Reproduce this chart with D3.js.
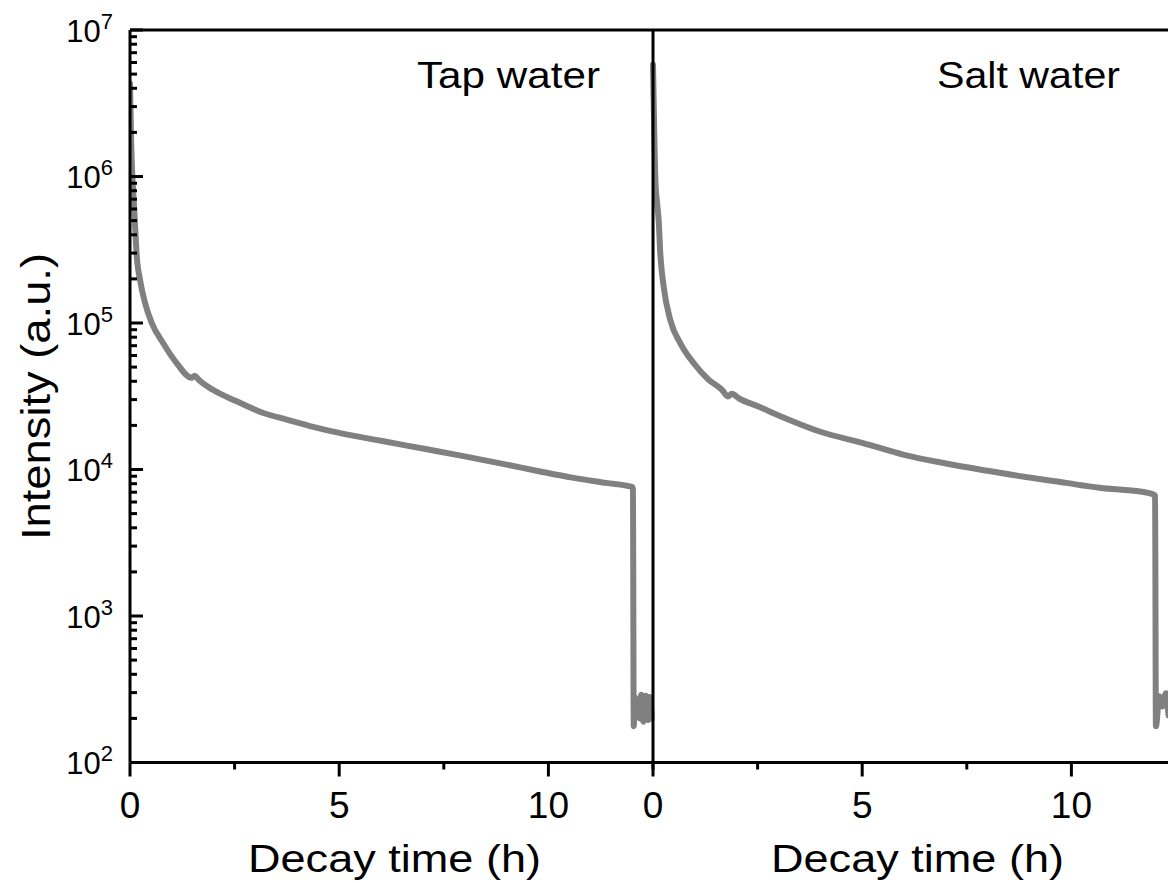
<!DOCTYPE html>
<html>
<head>
<meta charset="utf-8">
<script src="https://cdn.jsdelivr.net/npm/d3@7"></script>
<style>
  body { margin: 0; background: #fff; }
  text { font-family: "Liberation Sans", Arial, Helvetica, sans-serif; fill: #000; }
</style>
</head>
<body>
<svg id="chart" width="1168" height="883"></svg>
<script>
// Afterglow decay curves (hours vs. intensity), one panel per medium
const tapTime = [0, 0.03, 0.06, 0.09, 0.12, 0.16, 0.24, 0.36, 0.52, 0.79, 1.11, 1.47, 1.55, 1.64, 1.98, 2.55, 3.17, 3.74, 4.3, 5, 6, 7, 8, 9, 9.8, 10.57, 11.38, 12.0, 12.02,
  12.04, 12.07, 12.1, 12.14, 12.18, 12.22, 12.27, 12.33, 12.38, 12.43, 12.47];
const tapIntensity = [4.3e6, 1.6e6, 9.5e5, 6.8e5, 4.7e5, 2.9e5, 1.97e5, 1.37e5, 1.0e5, 7.3e4, 5.35e4, 4.23e4, 4.37e4, 4.1e4, 3.5e4, 2.92e4, 2.44e4, 2.19e4, 1.98e4, 1.78e4, 1.57e4, 1.39e4, 1.23e4, 1.08e4, 9.7e3, 8.8e3, 8.1e3, 7.6e3, 7.4e3,
  177, 280, 210, 265, 200, 290, 190, 285, 195, 280, 200];

const saltTime = [0, 0.03, 0.06, 0.1, 0.136, 0.174, 0.255, 0.413, 0.651, 0.97, 1.33, 1.65, 1.79, 1.885, 2.045, 2.52, 3.16, 4, 5, 6, 7, 8, 8.28, 9.87, 10.67, 11.86, 11.98, 12.0,
  12.02, 12.1, 12.17, 12.26, 12.32];
const saltIntensity = [5.8e6, 2.0e6, 9.0e5, 6.5e5, 5.0e5, 3.0e5, 1.77e5, 1.05e5, 7.3e4, 5.33e4, 4.1e4, 3.5e4, 3.15e4, 3.29e4, 3.07e4, 2.69e4, 2.24e4, 1.81e4, 1.52e4, 1.26e4, 1.1e4, 9.8e3, 9.5e3, 8.1e3, 7.5e3, 6.9e3, 6.7e3, 6.6e3,
  177, 283, 241, 297, 210];

const panelNames = ["Tap water", "Salt water"];
const xMajorTicks = [0, 5, 10];
const xMinorTicks = [2.5, 7.5, 12.5];
const yDecades = [1e2, 1e3, 1e4, 1e5, 1e6, 1e7];
const yExponents = ["2", "3", "4", "5", "6", "7"];
const yMinorTicks = [];
[1e2, 1e3, 1e4, 1e5, 1e6].forEach(d => [2, 3, 4, 5, 6, 7, 8, 9].forEach(m => yMinorTicks.push(d * m)));

const series = [
  { name: panelNames[0], time: tapTime, value: tapIntensity },
  { name: panelNames[1], time: saltTime, value: saltIntensity }
];

const svg = d3.select("#chart");
const W = 1168, H = 883;
const plotTop = 30, plotBottom = 762.5;
const panelLeft = [130, 653];
const panelWidth = 523;
const lineColor = "#808080";
const axisColor = "#000";

const y = d3.scaleLog().domain([1e2, 1e7]).range([plotBottom, plotTop]);

svg.append("defs").append("clipPath").attr("id", "clipAll")
  .append("rect").attr("x", 130).attr("y", plotTop).attr("width", W - 130).attr("height", plotBottom - plotTop);

const lineGroup = svg.append("g");
const axisGroup = svg.append("g").attr("stroke", axisColor).attr("stroke-width", 3);

series.forEach((s, i) => {
  const x0 = panelLeft[i];
  const x = d3.scaleLinear().domain([0, 12.5]).range([x0, x0 + panelWidth]);

  const pts = s.time.map((t, k) => [t, s.value[k]]);
  const line = d3.line().curve(d3.curveMonotoneX).x(d => x(d[0])).y(d => y(d[1]));

  lineGroup.append("path")
    .datum(pts)
    .attr("clip-path", "url(#clipAll)")
    .attr("d", line)
    .attr("fill", "none")
    .attr("stroke", lineColor)
    .attr("stroke-width", 6)
    .attr("stroke-linejoin", "round")
    .attr("stroke-linecap", "round");

  // frame lines: bottom, top, left of panel
  axisGroup.append("line").attr("x1", x(0)).attr("x2", Math.min(x(12.5), W)).attr("y1", plotBottom).attr("y2", plotBottom);
  axisGroup.append("line").attr("x1", x(0)).attr("x2", Math.min(x(12.5), W)).attr("y1", plotTop).attr("y2", plotTop);
  axisGroup.append("line").attr("x1", x(0)).attr("x2", x(0)).attr("y1", plotTop).attr("y2", plotBottom);

  // bottom ticks, pointing outward
  axisGroup.selectAll(null).data(xMajorTicks).join("line")
    .attr("x1", d => x(d)).attr("x2", d => x(d))
    .attr("y1", plotBottom).attr("y2", plotBottom + 14);
  axisGroup.selectAll(null).data(xMinorTicks).join("line")
    .attr("x1", d => x(d)).attr("x2", d => x(d))
    .attr("y1", plotBottom).attr("y2", plotBottom + 7);

  svg.selectAll(null).data(xMajorTicks).join("text")
    .attr("x", d => x(d))
    .attr("y", 818)
    .attr("text-anchor", "middle")
    .attr("font-size", 37)
    .text(d => d3.format("d")(d));

  // panel title
  svg.append("text")
    .attr("x", x0 + (i === 0 ? 287 : 284))
    .attr("y", 88)
    .attr("font-size", 37)
    .attr("textLength", 183)
    .attr("lengthAdjust", "spacingAndGlyphs")
    .text(s.name);

  // x axis title
  svg.append("text")
    .attr("x", x0 + 264.5)
    .attr("y", 872)
    .attr("text-anchor", "middle")
    .attr("font-size", 38)
    .attr("textLength", 293)
    .attr("lengthAdjust", "spacingAndGlyphs")
    .text("Decay time (h)");
});

// left axis ticks, pointing inward
const xl = panelLeft[0];
const yTickGroup = svg.append("g").attr("stroke", axisColor).attr("stroke-width", 3);
yTickGroup.selectAll("line.major").data(yDecades).join("line")
  .attr("class", "major")
  .attr("x1", xl).attr("x2", xl + 13)
  .attr("y1", d => y(d)).attr("y2", d => y(d));
yTickGroup.selectAll("line.minor").data(yMinorTicks).join("line")
  .attr("class", "minor")
  .attr("x1", xl).attr("x2", xl + 7)
  .attr("y1", d => y(d)).attr("y2", d => y(d));

// y tick labels with superscript exponents
yDecades.forEach((d, k) => {
  const t = svg.append("text")
    .attr("x", 113)
    .attr("y", y(d) + 11.5)
    .attr("text-anchor", "end")
    .attr("font-size", 31);
  t.append("tspan").text("10");
  t.append("tspan").attr("font-size", 22).attr("dy", -13).text(yExponents[k]);
});

// y axis title
svg.append("text")
  .attr("transform", `translate(50,${(253 + 540) / 2}) rotate(-90)`)
  .attr("text-anchor", "middle")
  .attr("font-size", 40)
  .attr("textLength", 287)
  .attr("lengthAdjust", "spacingAndGlyphs")
  .text("Intensity (a.u.)");
</script>
</body>
</html>
